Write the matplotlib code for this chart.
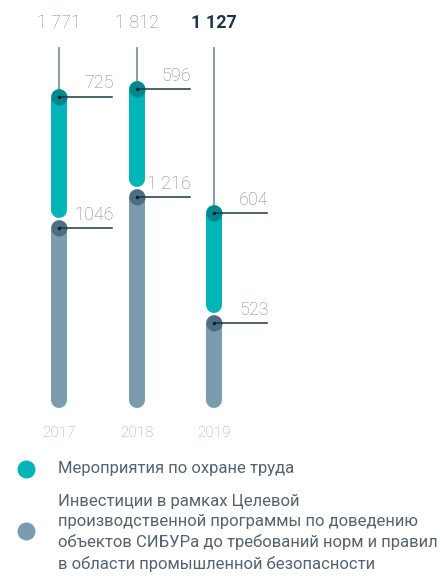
import matplotlib
matplotlib.use("Agg")
import matplotlib.pyplot as plt
from matplotlib.lines import Line2D

# данные, млн руб.
years = ["2017", "2018", "2019"]
safety_works = [725, 596, 604]          # мероприятия по охране труда
program_invest = [1046, 1216, 523]      # инвестиции в рамках целевой программы
totals = [1771, 1812, 1127]
total_labels = ["1 771", "1 812", "1 127"]
invest_labels = ["1046", "1 216", "523"]
safety_labels = ["725", "596", "604"]

legend_texts = [
    "Мероприятия по охране труда",
    "Инвестиции в рамках Целевой\nпроизводственной программы по доведению\n"
    "объектов СИБУРа до требований норм и правил\nв области промышленной безопасности",
]

TEAL = "#00b5b8"
TEAL_DARK = "#00888c"
GREY = "#7b9cae"
GREY_DARK = "#4d6d80"
STEM = "#7f939f"
LEADER = "#1c3646"
LABEL = "#7a8c98"
YEAR = "#98aab6"
TEXT = "#56636d"

W, H = 440, 577
fig = plt.figure(figsize=(W / 100, H / 100), dpi=100)
ax = fig.add_axes([20.25 / W, (H - 418) / H, 232.5 / W, 417.5 / H])
ax.set_xlim(-0.5, 2.5)
ax.set_ylim(0, 2300)
ax.axis("off")

bar_lw = 16 * 0.72
floor = 100      # нижний край капсулы
gap = 100        # зазор между сегментами
stem_top = 2040
leader_len = 0.685

for i in range(len(years)):
    g = program_invest[i]
    t = totals[i]
    # вертикальная линия к итогу
    ax.plot([i, i], [t, stem_top], color=STEM, lw=1.3, zorder=1)
    # сегменты
    ax.plot([i, i], [floor, g], color=GREY, lw=bar_lw, solid_capstyle="round", zorder=2)
    ax.plot([i, i], [g + gap, t], color=TEAL, lw=bar_lw, solid_capstyle="round", zorder=2)
    # тёмные «головки» сегментов
    ax.plot([i], [g], "o", ms=16 * 0.72, color=GREY_DARK, mec="none", zorder=3)
    ax.plot([i], [t], "o", ms=16 * 0.72, color=TEAL_DARK, mec="none", zorder=3)
    for v, lab in ((g, invest_labels[i]), (t, safety_labels[i])):
        ax.plot([i, i + leader_len], [v, v], color=LEADER, lw=1.1, zorder=4, clip_on=False)
        ax.plot([i], [v], "o", ms=2.5, color="#0d1f2a", mec="none", zorder=5)
        ax.annotate(lab, (i + leader_len, v), xytext=(1, 3), textcoords="offset points",
                    ha="right", va="bottom", fontsize=13, color=LABEL,
                    family="Roboto", fontweight="light", zorder=6,
                    annotation_clip=False)
    bold = i == len(years) - 1
    ax.annotate(total_labels[i], (i, stem_top), xytext=(0, 11), textcoords="offset points",
                ha="center", va="bottom", fontsize=13,
                color=LEADER if bold else LABEL, family="Roboto",
                fontweight="bold" if bold else "light", annotation_clip=False)
    ax.annotate(years[i], (i, 0), xytext=(0, -6), textcoords="offset points",
                ha="center", va="top", fontsize=11, color=YEAR,
                family="Roboto", fontweight="light", annotation_clip=False)

# легенда
fig.add_artist(Line2D([26 / W], [1 - 469 / H], marker="o", ms=18 * 0.72, color=TEAL,
                      mec="none", transform=fig.transFigure))
fig.text(58 / W, 1 - 468 / H, legend_texts[0], ha="left", va="center",
         fontsize=12, color=TEXT, family="Roboto")
fig.add_artist(Line2D([26 / W], [1 - 531 / H], marker="o", ms=18 * 0.72, color=GREY,
                      mec="none", transform=fig.transFigure))
fig.text(58 / W, 1 - 494 / H, legend_texts[1], ha="left", va="top",
         fontsize=12, color=TEXT, family="Roboto", linespacing=1.42)

fig.savefig("out.png", dpi=100)
